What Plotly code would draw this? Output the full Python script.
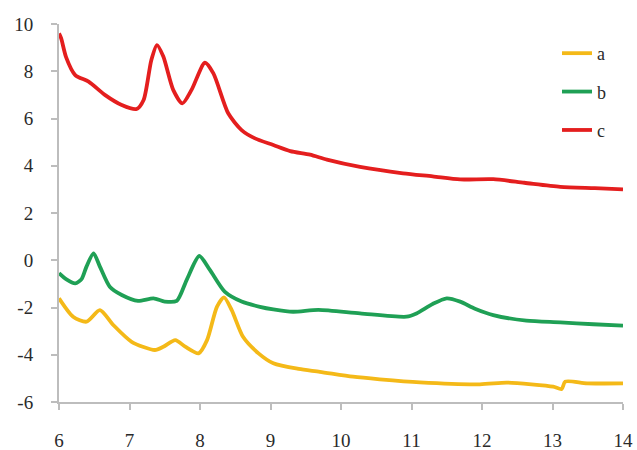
import plotly.graph_objects as go

# Series a (yellow)
a_x = [6.0, 6.2, 6.39, 6.58, 6.77, 7.03, 7.36, 7.48, 7.65, 7.79, 7.98, 8.10, 8.24, 8.34, 8.45,
       8.61, 8.83, 9.04, 9.4, 9.70, 10.17, 10.55, 11.12, 11.97, 12.35, 12.7, 13.01, 13.13, 13.18,
       13.49, 14.0]
a_y = [-1.61, -2.39, -2.60, -2.11, -2.74, -3.45, -3.80, -3.66, -3.38, -3.66, -3.94, -3.38, -1.97,
       -1.57, -2.11, -3.24, -3.94, -4.36, -4.6, -4.72, -4.93, -5.04, -5.17, -5.25, -5.18, -5.25,
       -5.35, -5.45, -5.14, -5.21, -5.21]

# Series b (green)
b_x = [6.0, 6.1, 6.23, 6.32, 6.39, 6.49, 6.58, 6.72, 6.89, 7.12, 7.34, 7.50, 7.67, 7.81, 7.99,
       8.14, 8.35, 8.59, 8.85, 9.04, 9.32, 9.68, 10.27, 10.93, 11.07, 11.3, 11.50, 11.69, 11.9,
       12.16, 12.63, 13.11, 13.58, 14.0]
b_y = [-0.55, -0.8, -0.98, -0.8, -0.27, 0.29, -0.27, -1.12, -1.47, -1.72, -1.61, -1.75, -1.72,
       -0.84, 0.18, -0.41, -1.33, -1.75, -1.97, -2.08, -2.18, -2.1, -2.25, -2.39, -2.25, -1.85,
       -1.61, -1.75, -2.05, -2.32, -2.56, -2.63, -2.71, -2.77]

# Series c (red)
c_x = [6.0, 6.03, 6.1, 6.23, 6.42, 6.65, 6.89, 7.10, 7.20, 7.31, 7.39, 7.48, 7.62, 7.75, 7.88,
       8.07, 8.19, 8.40, 8.59, 8.78, 9.04, 9.28, 9.56, 9.8, 10.27, 10.88, 11.3, 11.69, 12.16,
       12.6, 13.11, 13.6, 14.0]
c_y = [9.6, 9.4, 8.6, 7.84, 7.56, 7.0, 6.57, 6.40, 6.78, 8.48, 9.11, 8.62, 7.21, 6.64, 7.21,
       8.36, 7.91, 6.22, 5.51, 5.16, 4.88, 4.62, 4.47, 4.26, 3.95, 3.68, 3.55, 3.42, 3.43,
       3.28, 3.11, 3.05, 3.0]

x_ticks = [6, 7, 8, 9, 10, 11, 12, 13, 14]
y_ticks = [-6, -4, -2, 0, 2, 4, 6, 8, 10]

series = [("a", a_x, a_y, "#F4B918"), ("b", b_x, b_y, "#1FA055"), ("c", c_x, c_y, "#E41E1E")]

fig = go.Figure()
for name, xs, ys, col in series:
    fig.add_trace(go.Scatter(x=xs, y=ys, mode="lines", name=name, legendgroup=name,
                             line=dict(color=col, width=3.8, shape="spline", smoothing=0.7)))

tickfont = dict(family="Liberation Serif", size=19, color="#2a2a2a")
fig.update_layout(
    width=637, height=450,
    margin=dict(l=59, r=14, t=24, b=48, autoexpand=False),
    paper_bgcolor="white", plot_bgcolor="white",
    showlegend=True,
    legend=dict(x=0.883, y=0.971, xanchor="left", yanchor="top",
                font=dict(family="Liberation Serif", size=18, color="#2a2a2a"),
                tracegroupgap=12, bgcolor="rgba(0,0,0,0)"),
    xaxis=dict(range=[6, 14], tickvals=x_ticks, ticktext=[str(v) for v in x_ticks],
               showgrid=False, zeroline=False, showline=True, linecolor="#BDBDBD", linewidth=2,
               ticks="outside", ticklen=6, tickcolor="#BDBDBD", tickwidth=1.5,
               tickfont=tickfont, ticklabelstandoff=14, automargin=False),
    yaxis=dict(range=[-6, 10], tickvals=y_ticks, ticktext=[str(v) for v in y_ticks],
               showgrid=False, zeroline=False, showline=True, linecolor="#BDBDBD", linewidth=2,
               ticks="outside", ticklen=6, tickcolor="#BDBDBD", tickwidth=1.5,
               tickfont=tickfont, ticklabelstandoff=14, automargin=False),
)

fig.write_html("out.html", config={"displayModeBar": False},
               post_script="document.body.style.margin='0';")
